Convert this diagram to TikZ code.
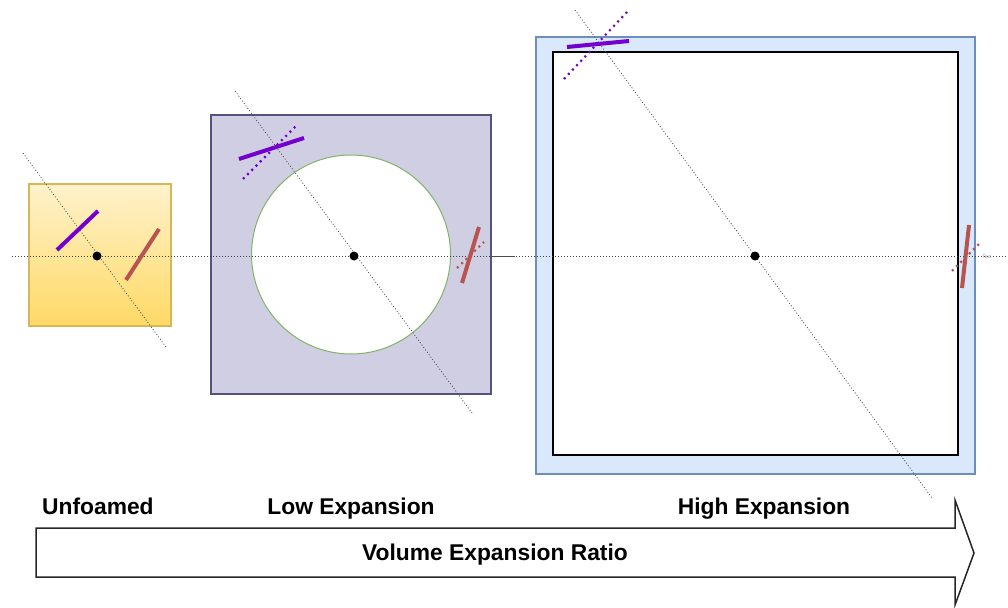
\documentclass[tikz,border=0pt]{standalone}
\usepackage{fontspec}
\setmainfont{Liberation Sans}
\definecolor{purp}{RGB}{115,0,205}
\definecolor{redl}{RGB}{184,84,80}
\definecolor{yelTop}{RGB}{255,242,204}
\definecolor{yelBot}{RGB}{255,217,102}
\definecolor{yelBorder}{RGB}{214,182,86}
\definecolor{lavFill}{RGB}{208,206,226}
\definecolor{lavBorder}{RGB}{86,81,126}
\definecolor{grnBorder}{RGB}{130,179,102}
\definecolor{bluFill}{RGB}{218,232,252}
\definecolor{bluBorder}{RGB}{108,142,191}
\tikzset{
  guide/.style={draw=black!75, line width=0.7pt, dash pattern=on 1pt off 2pt},
  solidbar/.style={line width=4pt},
  dotbar/.style={line width=2.2pt, dash pattern=on 2pt off 4pt},
  dotnode/.style={circle, fill=black, inner sep=0pt, minimum size=9pt},
  label/.style={font=\bfseries\fontsize{22.8}{26}\selectfont, inner sep=0pt, anchor=base},
  boxnode/.style={rectangle, inner sep=0pt}
}
\begin{document}
\begin{tikzpicture}[x=1pt,y=-1pt]
\useasboundingbox (0,0) rectangle (1008,607);
% boxes
\node[boxnode, minimum width=142pt, minimum height=142pt, top color=yelTop, bottom color=yelBot, draw=yelBorder, line width=1.5pt] (yb) at (100,255) {};
\node[boxnode, minimum width=280pt, minimum height=279pt, fill=lavFill, draw=lavBorder, line width=1.5pt] (lb) at (351,254.5) {};
\node[circle, minimum size=199pt, inner sep=0pt, fill=white, draw=grnBorder, line width=1pt] (cir) at (351,254.5) {};
\node[boxnode, minimum width=439pt, minimum height=437pt, fill=bluFill, draw=bluBorder, line width=2pt] (hb) at (755.5,255.5) {};
\node[boxnode, minimum width=405pt, minimum height=403pt, fill=white, draw=black, line width=2.5pt] (ib) at (755.5,253.5) {};
% guide lines
\coordinate (h0) at (12,256);
\coordinate (h1) at (1008,256);
\draw[guide] (h0) -- (h1);
\coordinate (hs0) at (491,256);
\coordinate (hs1) at (515,256);
\draw[black!70, line width=0.7pt] (hs0) -- (hs1);
\coordinate (d1a) at (23,153); \coordinate (d1b) at (166,347);
\draw[guide] (d1a) -- (d1b);
\coordinate (d2a) at (235,91); \coordinate (d2b) at (472,413);
\draw[guide] (d2a) -- (d2b);
\coordinate (d3a) at (575,10); \coordinate (d3b) at (932,498);
\draw[guide] (d3a) -- (d3b);
% centre dots
\node[dotnode] (c1) at (97,256) {};
\node[dotnode] (c2) at (354,256) {};
\node[dotnode] (c3) at (755,256) {};
% unfoamed bars
\coordinate (p1a) at (57,250); \coordinate (p1b) at (98,211);
\draw[solidbar, purp] (p1a) -- (p1b);
\coordinate (r1a) at (126,280); \coordinate (r1b) at (159,229);
\draw[solidbar, redl] (r1a) -- (r1b);
% low expansion bars
\coordinate (p2da) at (243,179); \coordinate (p2db) at (298,124);
\draw[dotbar, purp] (p2da) -- (p2db);
\coordinate (p2a) at (239,159); \coordinate (p2b) at (304,138);
\draw[solidbar, purp] (p2a) -- (p2b);
\coordinate (r2da) at (457,268); \coordinate (r2db) at (484,242);
\draw[dotbar, redl] (r2da) -- (r2db);
\coordinate (r2a) at (462,283); \coordinate (r2b) at (479,227);
\draw[solidbar, redl] (r2a) -- (r2b);
% high expansion bars
\coordinate (p3da) at (564,79); \coordinate (p3db) at (627,12);
\draw[dotbar, purp] (p3da) -- (p3db);
\coordinate (p3a) at (567,47); \coordinate (p3b) at (629,41);
\draw[solidbar, purp] (p3a) -- (p3b);
\coordinate (r3da) at (952,271); \coordinate (r3db) at (979,244);
\draw[dotbar, redl] (r3da) -- (r3db);
\coordinate (r3a) at (962,288); \coordinate (r3b) at (969,225);
\draw[solidbar, redl] (r3a) -- (r3b);
\node[inner sep=0pt, text=black!40, font=\fontsize{5}{6}\selectfont] (txt) at (987,257) {Text};
% big arrow
\draw[black!85, line width=1.5pt, fill=white, line join=miter]
  (36,528) -- (955,528) -- (955,500) -- (974,553) -- (955,605) -- (955,577) -- (36,577) -- cycle;
\node[label] (vol) at (495,560) {Volume Expansion Ratio};
% labels
\node[label, anchor=base west] (l1) at (42,514) {Unfoamed};
\node[label] (l2) at (351,514) {Low Expansion};
\node[label] (l3) at (764,514) {High Expansion};
\end{tikzpicture}
\end{document}
